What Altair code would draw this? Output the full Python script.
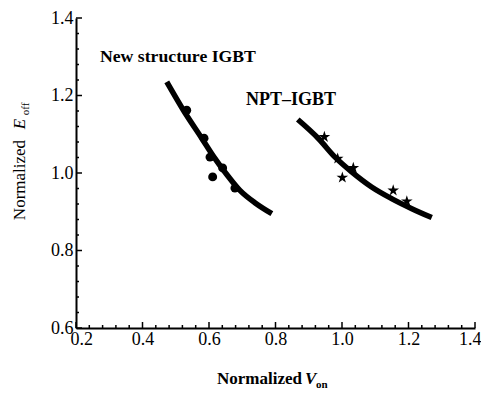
import altair as alt
import pandas as pd

# ---- data ----
new_curve_x = [0.473, 0.523, 0.578, 0.615, 0.650, 0.693, 0.740, 0.789]
new_curve_y = [1.235, 1.162, 1.090, 1.041, 1.000, 0.955, 0.922, 0.895]
new_pts_x = [0.533, 0.585, 0.603, 0.641, 0.611, 0.678]
new_pts_y = [1.162, 1.090, 1.041, 1.013, 0.990, 0.961]

npt_curve_x = [0.867, 0.929, 0.979, 1.029, 1.089, 1.149, 1.210, 1.270]
npt_curve_y = [1.138, 1.089, 1.041, 1.003, 0.964, 0.934, 0.908, 0.885]
npt_pts_x = [0.947, 0.987, 1.034, 1.001, 1.154, 1.195]
npt_pts_y = [1.093, 1.037, 1.013, 0.988, 0.955, 0.927]

x_ticks = [0.2, 0.4, 0.6, 0.8, 1.0, 1.2, 1.4]
y_ticks = [0.6, 0.8, 1.0, 1.2, 1.4]
x_minor = [0.24, 0.28, 0.32, 0.36, 0.44, 0.48, 0.52, 0.56, 0.64, 0.68, 0.72, 0.76,
           0.84, 0.88, 0.92, 0.96, 1.04, 1.08, 1.12, 1.16, 1.24, 1.28, 1.32, 1.36]
y_minor = [0.64, 0.68, 0.72, 0.76, 0.84, 0.88, 0.92, 0.96,
           1.04, 1.08, 1.12, 1.16, 1.24, 1.28, 1.32, 1.36]

FONT = "Liberation Serif"
W, H = 399, 310
STAR = ("M0,-1 L0.223,-0.307 L0.951,-0.309 L0.361,0.117 L0.588,0.809 L0,0.38 "
        "L-0.588,0.809 L-0.361,0.117 L-0.951,-0.309 L-0.223,-0.307 Z")

new_curve = pd.DataFrame({"x": new_curve_x, "y": new_curve_y})
npt_curve = pd.DataFrame({"x": npt_curve_x, "y": npt_curve_y})
new_pts = pd.DataFrame({"x": new_pts_x, "y": new_pts_y})
npt_pts = pd.DataFrame({"x": npt_pts_x, "y": npt_pts_y})

xs = alt.Scale(domain=[0.2, 1.4], nice=False, zero=False)
ys = alt.Scale(domain=[0.6, 1.4], nice=False, zero=False)

xax = alt.Axis(orient="bottom", values=x_ticks, format=".1f", title=None, grid=False,
               ticks=False, domainColor="black", domainWidth=2, labelFont=FONT,
               labelFontSize=18, labelColor="black", labelPadding=2, labelFlush=True,
               labelFlushOffset=6, labelOverlap=False)
yax = alt.Axis(orient="left", values=y_ticks, format=".1f", title=None, grid=False,
               ticks=False, domainColor="black", domainWidth=2, labelFont=FONT,
               labelFontSize=18, labelColor="black", labelPadding=3, labelFlush=False,
               labelOverlap=False)

X = alt.X("x:Q", scale=xs, axis=xax)
Y = alt.Y("y:Q", scale=ys, axis=yax)

line_new = alt.Chart(new_curve).mark_line(color="black", strokeWidth=5.5,
                                          interpolate="monotone").encode(x=X, y=Y)
line_npt = alt.Chart(npt_curve).mark_line(color="black", strokeWidth=5.5,
                                          interpolate="monotone").encode(x=X, y=Y)

dots = alt.Chart(new_pts).mark_point(shape="circle", filled=True, color="black",
                                     size=80, opacity=1).encode(x=X, y=Y)
stars = alt.Chart(npt_pts).mark_point(shape=STAR, filled=True, color="black",
                                      size=150, opacity=1).encode(x=X, y=Y)


def yrule(vals, length):
    return alt.Chart(pd.DataFrame({"y": vals})).mark_rule(color="black", strokeWidth=1.5).encode(
        y=Y, x=alt.value(0), x2=alt.value(length))


def xrule(vals, length):
    return alt.Chart(pd.DataFrame({"x": vals})).mark_rule(color="black", strokeWidth=1.5).encode(
        x=X, y=alt.value(H), y2=alt.value(H - length))


def txt(text, x, y, size=17, weight="normal", style="normal", align="left", angle=0):
    return alt.Chart(pd.DataFrame({"t": [text]})).mark_text(
        font=FONT, fontSize=size, fontWeight=weight, fontStyle=style, align=align,
        baseline="alphabetic", angle=angle, color="black"
    ).encode(text="t:N", x=alt.value(x), y=alt.value(y))


labels = [
    txt("New structure IGBT", 24, 44, size=17.7, weight="bold"),
    txt("NPT\u2013IGBT", 170, 87, size=18, weight="bold"),
    txt("Normalized", 141, 366, size=17, weight="bold"),
    txt("V", 229, 366, size=17, weight="bold", style="italic"),
    txt("on", 240, 370, size=11, weight="bold"),
    txt("Normalized", -51, 162, size=17, align="center", angle=270),
    txt("E", -51, 106, size=17, style="italic", align="center", angle=270),
    txt("off", -47, 91, size=11, align="center", angle=270),
]

chart = alt.layer(
    line_new, line_npt, dots, stars,
    yrule(y_ticks, 6), yrule(y_minor, 3), xrule(x_ticks, 6), xrule(x_minor, 3),
    *labels
).properties(
    width=W, height=H,
    autosize=alt.AutoSizeParams(type="none"),
    padding={"left": 68, "top": 10, "right": 6, "bottom": 65},
    background="white",
).configure_view(stroke=None)

chart.save("out.html", embed_options={"renderer": "svg", "actions": False})
